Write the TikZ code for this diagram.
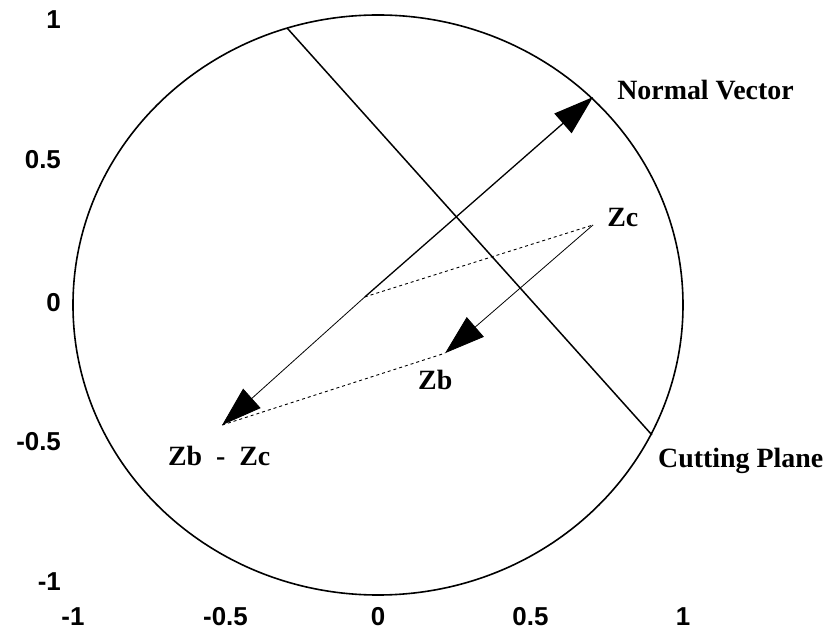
\documentclass[tikz,border=0pt]{standalone}
\usepackage{fontspec}
\setmainfont{Liberation Serif}
\newfontfamily\ticksfont{Liberation Sans}
\usetikzlibrary{arrows.meta}

\begin{document}
\begin{tikzpicture}[x=305bp,y=290bp,>={Triangle[length=40bp,width=26bp]},
  lbl/.style={anchor=base west,inner sep=0pt,font=\fontsize{28}{30}\selectfont\bfseries},
  tick/.style={inner sep=0pt,font=\fontsize{26}{28}\selectfont\ticksfont\bfseries}]
  \useasboundingbox (-1.2393,-1.1379) rectangle (1.4721,1.0517);
  \draw[line width=1.6bp] (0,0) ellipse [x radius=305bp,y radius=290bp];
  % points
  \coordinate (O) at (-0.043,0.028);
  \coordinate (Zc) at (0.705,0.276);
  \coordinate (Zb) at (0.220,-0.166);
  \coordinate (ZbZc) at (-0.511,-0.414);
  \coordinate (N) at (0.705,0.717);
  \coordinate (cutA) at (-0.298,0.955);
  \coordinate (cutB) at (0.898,-0.448);
  % plane and vectors
  \draw[line width=1.5bp] (cutA) -- (cutB);
  \draw[line width=1.3bp,->] (O) -- (N);
  \draw[line width=0.8bp,->] (O) -- (ZbZc);
  \draw[line width=0.8bp,->] (Zc) -- (Zb);
  \draw[line width=0.9bp,dash pattern=on 3bp off 3bp] (O) -- (Zc);
  \draw[line width=0.9bp,dash pattern=on 3bp off 3bp] (ZbZc) -- (Zb);
  % labels
  \node[lbl] (normal) at (0.784,0.710) {Normal Vector};
  \node[lbl] (zc) at (0.751,0.272) {Zc};
  \node[lbl] (zb) at (0.131,-0.290) {Zb};
  \node[lbl] (zbzc) at (-0.689,-0.555) {Zb\ \ -\ \ Zc};
  \node[lbl] (cutting) at (0.918,-0.559) {Cutting Plane};
  % ticks
  \foreach \v [count=\i] in {-1,-0.5,0,0.5,1}
    \node[tick] (xt\i) at (\v,-1.076) {\v};
  \foreach \v/\p [count=\i] in {1/0.983,0.5/0.503,0/0.010,-0.5/-0.472,-1/-0.955}
    \node[tick,anchor=east] (yt\i) at (-1.039,\p) {\v};
\end{tikzpicture}
\end{document}
